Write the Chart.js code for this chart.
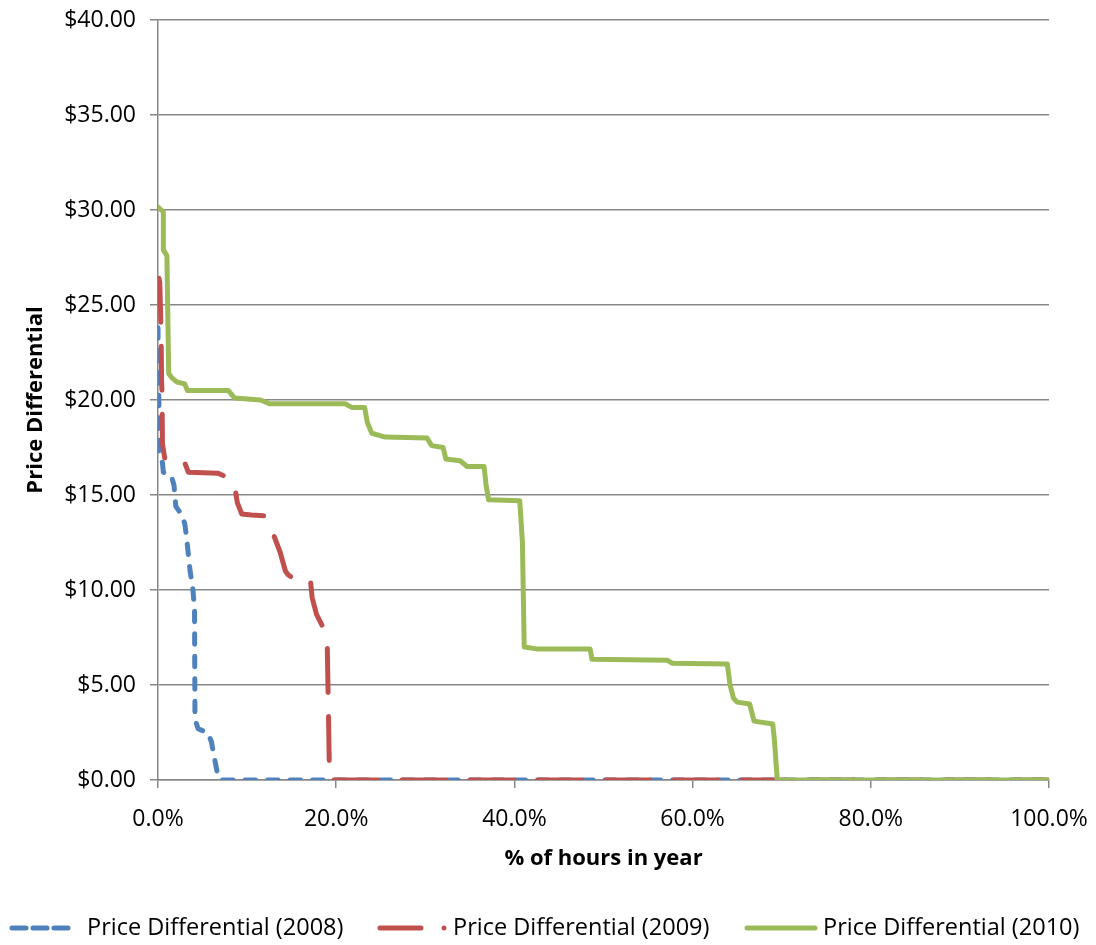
<!DOCTYPE html>
<html>
<head>
<meta charset="utf-8">
<script src="https://cdn.jsdelivr.net/npm/chart.js@4.4.1/dist/chart.umd.min.js"></script>
<style>
  html, body { margin: 0; padding: 0; background: #fff; }
  #c { display: block; }
</style>
</head>
<body>
<canvas id="c" width="1096" height="945"></canvas>
<script>
// ---- data (x = % of hours in year, y = price differential $) ----
const hours2008 = [0.0,0.05,0.1,0.15,0.5,0.6,1.5,1.8,2.0,2.6,3.0,3.2,3.4,3.6,3.9,4.1,4.15,4.5,5.0,5.6,6.0,6.6,7.0,100];
const price2008 = [23.8,20.9,20.0,17.1,16.7,16.2,16.0,15.5,14.4,14.0,13.5,12.8,11.9,11.0,10.1,9.0,3.2,2.7,2.6,2.5,2.0,0.5,0,0];

const hours2009 = [0.1,0.2,0.3,0.35,0.4,0.45,0.5,0.8,1.2,3.0,3.4,6.7,8.4,8.7,8.9,9.4,10.5,12.0,12.5,12.9,13.7,14.3,14.6,15.2,17.1,17.3,17.8,18.4,19.0,19.15,19.25,100];
const price2009 = [26.4,26.2,24.4,23.3,21.0,20.4,17.7,16.8,16.8,16.7,16.2,16.15,15.8,15.2,14.6,14.0,13.95,13.9,13.5,13.0,12.0,11.0,10.8,10.6,10.55,9.6,8.7,8.15,7.0,3.0,0,0];

const hours2010 = [0,0.6,0.6,1.0,1.1,1.2,1.6,2.1,3.0,3.3,7.9,8.6,11.5,12.5,21.0,21.8,23.2,23.5,24.0,25.5,30.2,30.7,32.0,32.3,33.9,34.7,36.6,36.8,37.1,40.6,40.9,41.1,42.5,48.5,48.7,57.2,57.7,63.9,64.2,64.6,65.0,66.4,66.9,69.0,69.2,69.5,100];
const price2010 = [30.15,29.9,27.9,27.6,24.5,21.4,21.15,20.95,20.85,20.5,20.5,20.1,20.0,19.8,19.8,19.6,19.6,18.8,18.25,18.05,18.0,17.6,17.5,16.9,16.8,16.5,16.5,15.6,14.75,14.7,12.5,7.0,6.9,6.9,6.35,6.3,6.15,6.1,5.0,4.3,4.1,4.0,3.1,2.95,2.0,0,0];

const seriesLabels = ['Price Differential (2008)', 'Price Differential (2009)', 'Price Differential (2010)'];
const xTickValues = [0, 20, 40, 60, 80, 100];
const yTickValues = [0, 5, 10, 15, 20, 25, 30, 35, 40];
const xTitle = '% of hours in year';
const yTitle = 'Price Differential';

// ---- build ----
const FONT = "'Open Sans', 'Noto Sans', 'DejaVu Sans', sans-serif";
const BLUE = '#4F81BD', RED = '#C0504D', GREEN = '#9BBB59', GRID = '#878787';
const LW = 5;
const pts = (xs, ys) => xs.map((x, i) => ({ x: x, y: ys[i] }));

const legendPlugin = {
  id: 'excelLegend',
  afterDraw(chart) {
    const ctx = chart.ctx;
    const y = 928;
    const items = [
      { x0: 12, x1: 68, tx: 87, color: BLUE, dash: [14, 7] },
      { x0: 380, x1: 446, tx: 453, color: RED, dash: [41, 23, 0.01, 100] },
      { x0: 747, x1: 815, tx: 823, color: GREEN, dash: [] }
    ];
    ctx.save();
    items.forEach((it, i) => {
      ctx.beginPath();
      ctx.strokeStyle = it.color;
      ctx.lineWidth = LW;
      ctx.lineCap = 'round';
      ctx.setLineDash(it.dash);
      ctx.moveTo(it.x0, y);
      ctx.lineTo(it.x1, y);
      ctx.stroke();
      ctx.setLineDash([]);
      ctx.fillStyle = '#000';
      ctx.font = "23.5px " + FONT;
      ctx.textBaseline = 'middle';
      ctx.textAlign = 'left';
      ctx.fillText(chart.data.datasets[i].label, it.tx, y);
    });
    ctx.restore();
  }
};

new Chart(document.getElementById('c'), {
  type: 'line',
  data: {
    datasets: [
      { label: seriesLabels[0], data: pts(hours2008, price2008), borderColor: BLUE, borderWidth: LW,
        borderDash: [10.5, 12], borderCapStyle: 'round', borderJoinStyle: 'round', pointRadius: 0, tension: 0, order: 3, fill: false },
      { label: seriesLabels[1], data: pts(hours2009, price2009), borderColor: RED, borderWidth: LW,
        borderDash: [44, 24], borderCapStyle: 'round', borderJoinStyle: 'round', pointRadius: 0, tension: 0, order: 2, fill: false },
      { label: seriesLabels[2], data: pts(hours2010, price2010), borderColor: GREEN, borderWidth: LW,
        borderCapStyle: 'round', borderJoinStyle: 'round', pointRadius: 0, tension: 0, order: 1, fill: false }
    ]
  },
  options: {
    responsive: false,
    animation: false,
    layout: { padding: { left: 0, right: 47, top: 20, bottom: 65 } },
    plugins: { legend: { display: false }, tooltip: { enabled: false } },
    scales: {
      x: {
        type: 'linear', min: 0, max: 100,
        afterBuildTicks: s => { s.ticks = xTickValues.map(v => ({ value: v })); },
        ticks: { callback: v => v.toFixed(1) + '%', font: { family: FONT, size: 23 }, color: '#000', padding: 18, maxRotation: 0, autoSkip: false },
        grid: { drawOnChartArea: false, drawTicks: true, tickLength: 8, color: GRID, lineWidth: 1.5 },
        border: { display: true, color: GRID, width: 1.5 },
        title: { display: true, text: xTitle, font: { family: FONT, size: 22, weight: 'bold' }, color: '#000', padding: { top: 0, bottom: 8 } },
        afterFit: s => { s.height = 100; s.paddingLeft = 0; s.paddingRight = 0; }
      },
      y: {
        type: 'linear', min: 0, max: 40,
        afterBuildTicks: s => { s.ticks = yTickValues.map(v => ({ value: v })); },
        ticks: { callback: v => '$' + v.toFixed(2), font: { family: FONT, size: 23 }, color: '#000', padding: 14, autoSkip: false },
        grid: { color: GRID, lineWidth: 1.5, tickLength: 8 },
        border: { display: true, color: GRID, width: 1.5 },
        title: { display: true, text: yTitle, font: { family: FONT, size: 22, weight: 'bold' }, color: '#000', padding: { top: 23, bottom: 0 } },
        afterFit: s => { s.width = 158; s.paddingTop = 0; s.paddingBottom = 0; }
      }
    }
  },
  plugins: [legendPlugin]
});
</script>
</body>
</html>
